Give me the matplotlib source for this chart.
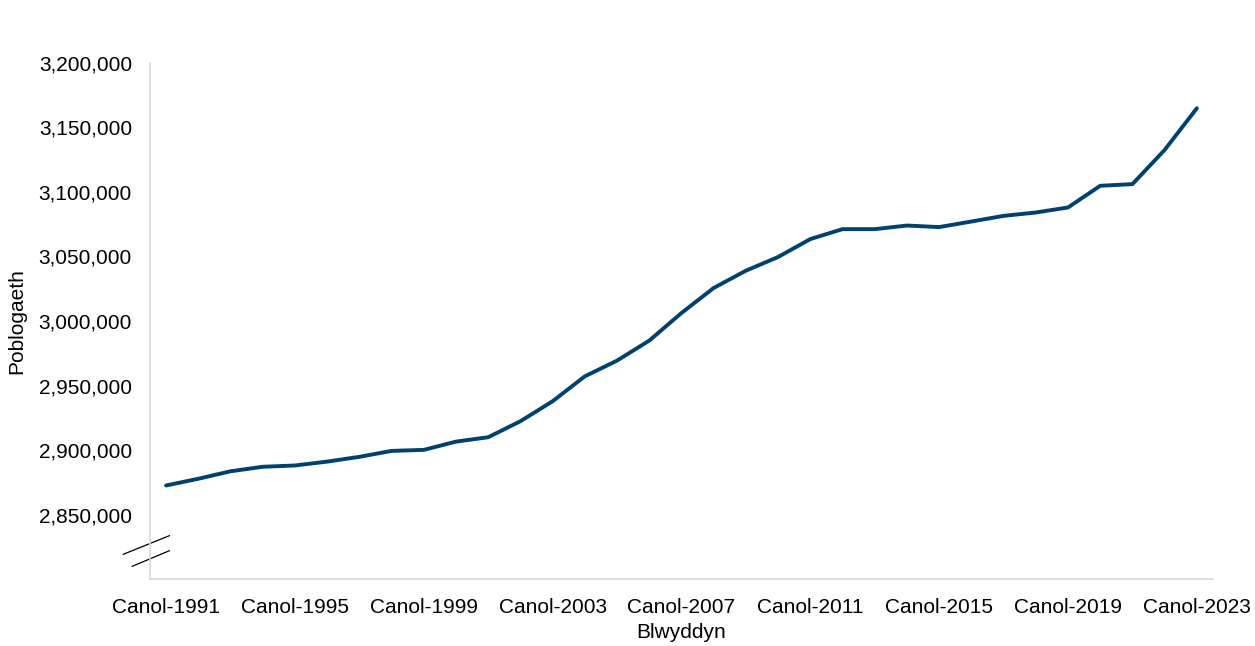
import numpy as np
import matplotlib.pyplot as plt
from matplotlib.ticker import FuncFormatter, MultipleLocator

plt.rcParams['font.family'] = ['Liberation Sans', 'DejaVu Sans']

# Poblogaeth canol blwyddyn, 1991-2023
blynyddoedd = list(range(1991, 2024))
poblogaeth = [
    2872500, 2877700, 2883500, 2887000, 2888000, 2891000, 2894700, 2899300,
    2900100, 2906500, 2909900, 2922300, 2937800, 2957100, 2969300, 2984800,
    3006200, 3025600, 3039000, 3049600, 3063500, 3071200, 3071200, 3074000,
    3072800, 3077100, 3081500, 3084100, 3088000, 3104800, 3106100, 3132600,
    3164900,
]
labeli_x = [f"Canol-{b}" for b in blynyddoedd]

fig = plt.figure(figsize=(12.55, 6.46), dpi=100)
ax = fig.add_axes([0.1195, 0.1037, 0.847, 0.7988])

x = np.arange(len(blynyddoedd))
ax.plot(x, poblogaeth, color='#00416e', linewidth=2.8, solid_capstyle='round')

ax.set_xlim(-0.5, len(blynyddoedd) - 0.5)
ax.set_ylim(2800000, 3200000)
ax.yaxis.set_major_locator(MultipleLocator(50000))
ax.yaxis.set_major_formatter(FuncFormatter(lambda v, p: "" if v < 2825000 else f"{int(v):,}"))
ax.set_xticks(x[::4])
ax.set_xticklabels(labeli_x[::4])

for s in ['top', 'right']:
    ax.spines[s].set_visible(False)
for s in ['left', 'bottom']:
    ax.spines[s].set_color('#d9d9d9')
    ax.spines[s].set_linewidth(1.2)
ax.tick_params(axis='both', length=0, labelsize=15, colors='#000000')
ax.tick_params(axis='x', pad=14)
ax.tick_params(axis='y', pad=13)

ax.set_xlabel("Blwyddyn", fontsize=15, labelpad=4)
ax.set_ylabel("Poblogaeth", fontsize=15, labelpad=9)

# marciau torri echel
ax.plot([-0.0251, 0.0182], [0.0479, 0.0839], transform=ax.transAxes,
        color='black', linewidth=0.9, clip_on=False)
ax.plot([-0.0167, 0.0182], [0.0246, 0.0548], transform=ax.transAxes,
        color='black', linewidth=0.9, clip_on=False)

fig.savefig("out.png", dpi=100)
